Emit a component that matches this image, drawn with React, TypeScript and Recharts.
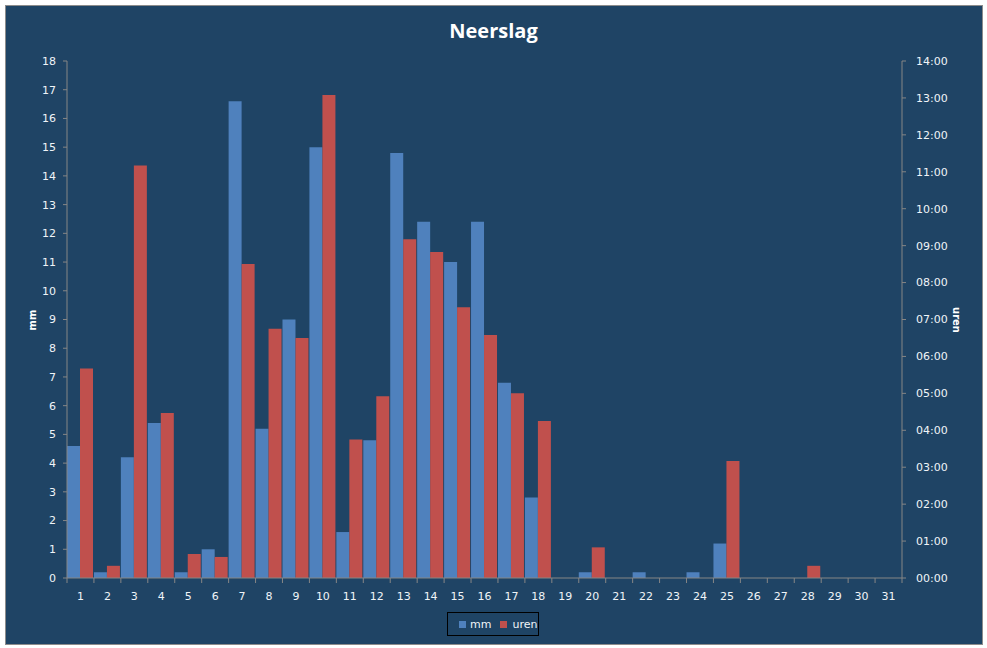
import React from "react";
import { BarChart, Bar, XAxis, YAxis } from "recharts";

// dagen van de maand
const DAYS = Array.from({ length: 31 }, (_, i) => String(i + 1));

// neerslag in mm per dag
const MM = [
  4.6, 0.2, 4.2, 5.4, 0.2, 1.0, 16.6, 5.2, 9.0, 15.0, 1.6, 4.8, 14.8, 12.4, 11.0, 12.4,
  6.8, 2.8, 0, 0.2, 0, 0.2, 0, 0.2, 1.2, 0, 0, 0, 0, 0, 0,
];

// duur van de neerslag in uren (decimaal)
const UREN = [
  5.67, 0.33, 11.17, 4.47, 0.65, 0.57, 8.5, 6.75, 6.5, 13.08, 3.75, 4.92, 9.17, 8.83, 7.33, 6.58,
  5.0, 4.25, 0, 0.83, 0, 0, 0, 0, 3.17, 0, 0, 0.33, 0, 0, 0,
];

const MM_TICKS = [0, 1, 2, 3, 4, 5, 6, 7, 8, 9, 10, 11, 12, 13, 14, 15, 16, 17, 18];
const UREN_TICKS = [0, 1, 2, 3, 4, 5, 6, 7, 8, 9, 10, 11, 12, 13, 14];

const data = DAYS.map((day, i) => ({ day, mm: MM[i], uren: UREN[i] }));

const BG = "#1F4465";
const BLUE = "#4F81BD";
const RED = "#C0504D";
const AXIS = "#868686";
const TEXT = "#F0F4F8";
const FONT = "'DejaVu Sans', Verdana, sans-serif";

const W = 987;
const H = 648;
const LEFT_W = 67;
const RIGHT_W = 85;
const HALF = (W - LEFT_W - RIGHT_W) / DAYS.length / 2;

const fmtUren = (v: number) => `${String(v).padStart(2, "0")}:00`;

// eslint-disable-next-line @typescript-eslint/no-explicit-any
function DayTick({ x, y, payload, index }: any) {
  return (
    <g>
      <line x1={x - HALF} x2={x - HALF} y1={y - 5} y2={y} stroke={AXIS} />
      {index === DAYS.length - 1 && (
        <line x1={x + HALF} x2={x + HALF} y1={y - 5} y2={y} stroke={AXIS} />
      )}
      <text x={x} y={y + 17} textAnchor="middle" fill={TEXT} fontSize={11} fontFamily={FONT}>
        {payload.value}
      </text>
    </g>
  );
}

export default function App() {
  return (
    <div style={{ position: "absolute", left: 0, top: 0, width: W, height: H, background: "#fff" }}>
      <div
        style={{
          position: "absolute",
          left: 5,
          top: 5,
          width: 976,
          height: 638,
          background: BG,
          border: "1px solid #8C8C8C",
        }}
      />
      <div style={{ position: "absolute", left: 0, top: 0 }}>
        <BarChart
          width={W}
          height={H}
          data={data}
          margin={{ top: 61, right: 0, left: 0, bottom: 40 }}
          barCategoryGap={0}
          barGap={0}
        >
          <XAxis
            dataKey="day"
            interval={0}
            height={30}
            axisLine={{ stroke: AXIS }}
            tickLine={false}
            tickSize={5}
            tickMargin={0}
            tick={<DayTick />}
          />
          <YAxis
            yAxisId="mm"
            orientation="left"
            width={LEFT_W}
            domain={[0, 18]}
            ticks={MM_TICKS}
            interval={0}
            axisLine={{ stroke: AXIS }}
            tickLine={{ stroke: AXIS }}
            tickSize={4}
            tickMargin={7}
            tick={{ fill: TEXT, fontSize: 11, fontFamily: FONT }}
          />
          <YAxis
            yAxisId="uren"
            orientation="right"
            width={RIGHT_W}
            domain={[0, 14]}
            ticks={UREN_TICKS}
            interval={0}
            tickFormatter={fmtUren}
            axisLine={{ stroke: AXIS }}
            tickLine={{ stroke: AXIS }}
            tickSize={4}
            tickMargin={10}
            tick={{ fill: TEXT, fontSize: 11, fontFamily: FONT, textAnchor: "start" }}
          />
          <Bar yAxisId="mm" dataKey="mm" fill={BLUE} isAnimationActive={false} />
          <Bar yAxisId="uren" dataKey="uren" fill={RED} isAnimationActive={false} />
        </BarChart>
      </div>

      <div
        style={{
          position: "absolute",
          left: 0,
          width: W,
          top: 17,
          textAlign: "center",
          color: "#fff",
          fontFamily: "'Open Sans', sans-serif",
          fontWeight: 700,
          fontSize: 20,
          lineHeight: "28px",
        }}
      >
        Neerslag
      </div>

      <div
        style={{
          position: "absolute",
          left: 32,
          top: 320,
          transform: "translate(-50%, -50%) rotate(-90deg)",
          color: "#fff",
          fontFamily: FONT,
          fontWeight: 700,
          fontSize: 10,
          whiteSpace: "nowrap",
        }}
      >
        mm
      </div>
      <div
        style={{
          position: "absolute",
          left: 956,
          top: 320,
          transform: "translate(-50%, -50%) rotate(90deg)",
          color: "#fff",
          fontFamily: FONT,
          fontWeight: 700,
          fontSize: 10,
          whiteSpace: "nowrap",
        }}
      >
        uren
      </div>

      <div
        style={{
          position: "absolute",
          left: 447,
          top: 612,
          width: 90,
          height: 22,
          border: "1px solid #000",
          display: "flex",
          alignItems: "center",
          fontFamily: FONT,
          fontSize: 11,
          color: TEXT,
        }}
      >
        <span style={{ width: 7, height: 7, background: BLUE, marginLeft: 11, marginRight: 4 }} />
        <span>mm</span>
        <span style={{ width: 7, height: 7, background: RED, marginLeft: 9, marginRight: 5 }} />
        <span>uren</span>
      </div>
    </div>
  );
}
